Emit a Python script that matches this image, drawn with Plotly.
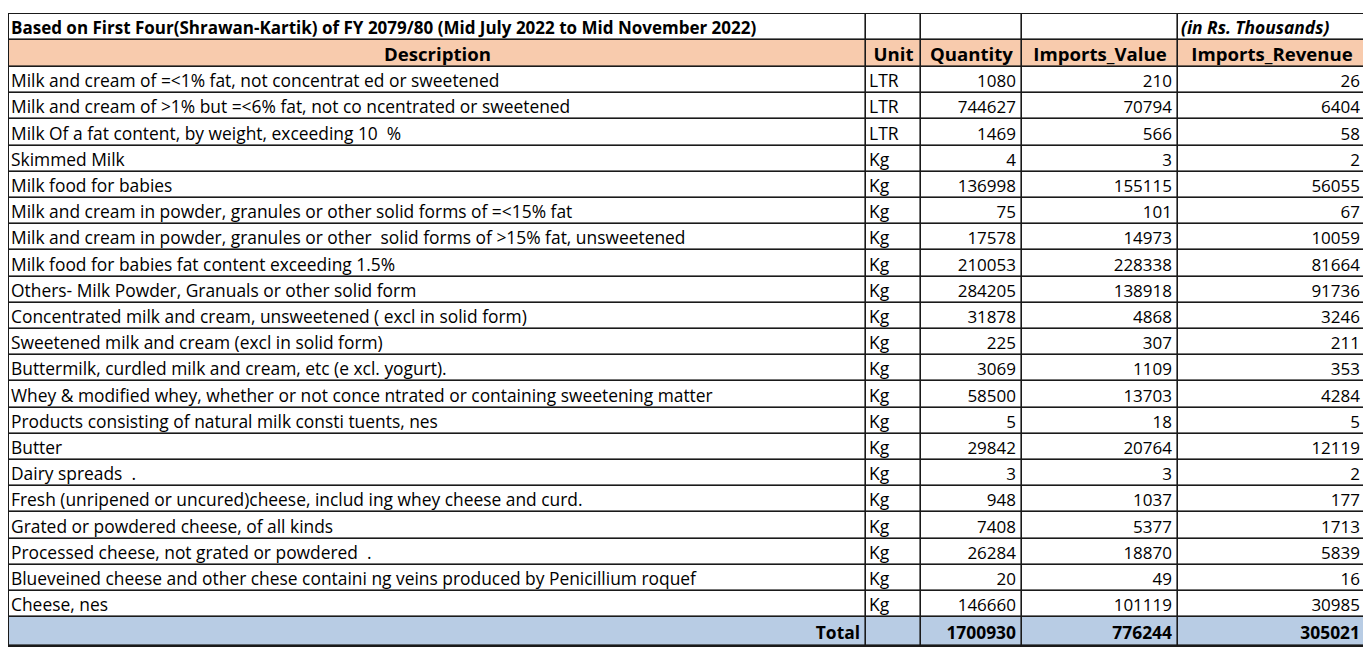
import plotly.graph_objects as go

title_text = "Based on First Four(Shrawan-Kartik) of FY 2079/80 (Mid July 2022 to Mid November 2022)"
units_note = "(in Rs. Thousands)"
col_headers = ["Description", "Unit", "Quantity", "Imports_Value", "Imports_Revenue"]

descriptions = [
    "Milk and cream of =<1% fat, not concentrat ed or sweetened",
    "Milk and cream of >1% but =<6% fat, not co ncentrated or sweetened",
    "Milk Of a fat content, by weight, exceeding 10  %",
    "Skimmed Milk",
    "Milk food for babies",
    "Milk and cream in powder, granules or other solid forms of =<15% fat",
    "Milk and cream in powder, granules or other  solid forms of >15% fat, unsweetened",
    "Milk food for babies fat content exceeding 1.5%",
    "Others- Milk Powder, Granuals or other solid form",
    "Concentrated milk and cream, unsweetened ( excl in solid form)",
    "Sweetened milk and cream (excl in solid form)",
    "Buttermilk, curdled milk and cream, etc (e xcl. yogurt).",
    "Whey & modified whey, whether or not conce ntrated or containing sweetening matter",
    "Products consisting of natural milk consti tuents, nes",
    "Butter",
    "Dairy spreads  .",
    "Fresh (unripened or uncured)cheese, includ ing whey cheese and curd.",
    "Grated or powdered cheese, of all kinds",
    "Processed cheese, not grated or powdered  .",
    "Blueveined cheese and other chese containi ng veins produced by Penicillium roquef",
    "Cheese, nes",
]
units = ["LTR", "LTR", "LTR"] + ["Kg"] * 18
quantity = [1080, 744627, 1469, 4, 136998, 75, 17578, 210053, 284205, 31878, 225,
            3069, 58500, 5, 29842, 3, 948, 7408, 26284, 20, 146660]
imports_value = [210, 70794, 566, 3, 155115, 101, 14973, 228338, 138918, 4868, 307,
                 1109, 13703, 18, 20764, 3, 1037, 5377, 18870, 49, 101119]
imports_revenue = [26, 6404, 58, 2, 56055, 67, 10059, 81664, 91736, 3246, 211,
                   353, 4284, 5, 12119, 2, 177, 1713, 5839, 16, 30985]
total_label = "Total"
totals = [1700930, 776244, 305021]

# ---------------- layout / style (pixel geometry of the grid) ----------------
n = len(descriptions)
PEACH = "#F8CBAD"
BLUE = "#B8CCE4"
WHITE = "#FFFFFF"
GRID = "#1a1a1a"
FONT = "Open Sans"

col_edges = [1, 858, 913, 1014, 1170, 1358]           # x pixels in plot coords
title_h, head_h, row_h, total_h = 26, 27, 26.2, 28.8
row_edges = [6, 6 + title_h, 6 + title_h + head_h]
for i in range(n):
    row_edges.append(row_edges[-1] + row_h)
row_edges.append(row_edges[-1] + total_h)
TEXT_DY = 2.8  # text sits slightly low in each cell (bottom-aligned look)
row_mid = [(row_edges[i] + row_edges[i + 1]) / 2 + TEXT_DY for i in range(len(row_edges) - 1)]

PAD_L, PAD_R = 3, 6

# fill codes: 0 white, 1 peach, 2 blue
z = [[0] * 5] + [[1] * 5] + [[0] * 5 for _ in range(n)] + [[2] * 5]

fig = go.Figure()
fig.add_trace(go.Heatmap(
    x=col_edges, y=row_edges, z=z,
    colorscale=[[0, WHITE], [0.5, PEACH], [1, BLUE]],
    zmin=0, zmax=2, showscale=False, xgap=1.6, ygap=1.6,
    hoverinfo="skip",
))


def text_trace(xs, ys, texts, pos, size, bold=False):
    if bold:
        texts = [f"<b>{t}</b>" for t in texts]
    fig.add_trace(go.Scatter(
        x=xs, y=ys, text=texts, mode="text", textposition=pos,
        textfont=dict(family=FONT, size=size, color="black"),
        hoverinfo="skip", showlegend=False, cliponaxis=False,
    ))


data_rows = row_mid[2:2 + n]

# title row
text_trace([col_edges[0] + PAD_L - 1], [row_mid[0]], [title_text], "middle right", 17, bold=True)
text_trace([col_edges[4] + PAD_L], [row_mid[0]], [f"<i>{units_note}</i>"], "middle right", 17.4, bold=True)

# header row
hdr_x = [(col_edges[i] + col_edges[i + 1]) / 2 for i in range(5)]
text_trace(hdr_x, [row_mid[1]] * 5, col_headers, "middle center", 18.6, bold=True)

# description and unit columns (left aligned)
text_trace([col_edges[0] + PAD_L - 1] * n, data_rows, descriptions, "middle right", 17.4)
text_trace([col_edges[1] + PAD_L] * n, data_rows, units, "middle right", 17.5)

# numeric columns (right aligned)
for ci, vals in zip([2, 3, 4], [quantity, imports_value, imports_revenue]):
    text_trace([col_edges[ci + 1] - PAD_R] * n, data_rows, [str(v) for v in vals], "middle left", 17)

# total row
text_trace([col_edges[1] - PAD_R], [row_mid[-1]], [total_label], "middle left", 17.4, bold=True)
text_trace([col_edges[c + 1] - PAD_R for c in [2, 3, 4]], [row_mid[-1]] * 3,
           [str(v) for v in totals], "middle left", 17.4, bold=True)

fig.update_xaxes(range=[0, 1359], visible=False, fixedrange=True)
fig.update_yaxes(range=[639, 5], visible=False, fixedrange=True)
fig.update_layout(
    width=1363, height=645,
    margin=dict(l=0, r=4, t=5, b=6),
    paper_bgcolor="white", plot_bgcolor=GRID,
    showlegend=False,
)
fig.write_html("out.html")
